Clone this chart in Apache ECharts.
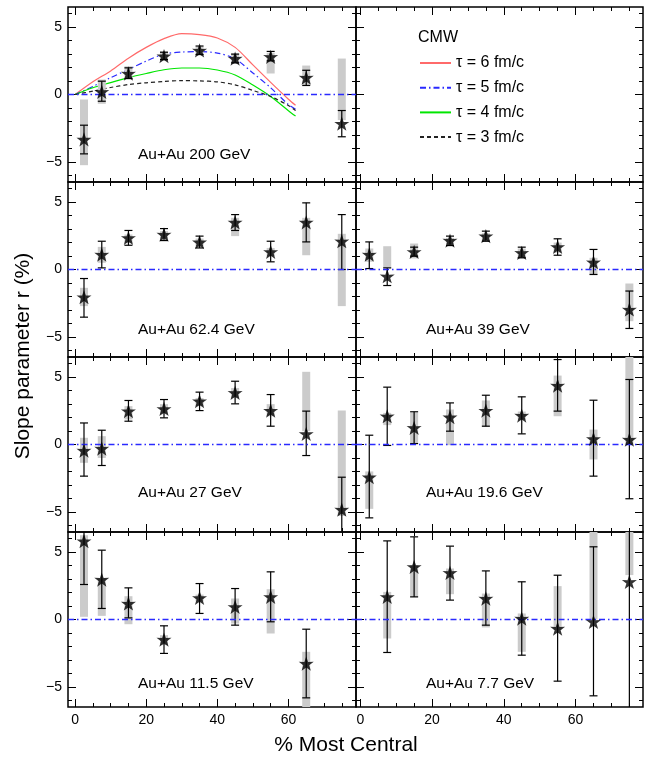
<!DOCTYPE html>
<html><head><meta charset="utf-8">
<script src="https://cdn.jsdelivr.net/npm/echarts@6/dist/echarts.min.js"></script>
<style>html,body{margin:0;padding:0;background:#fff}#c{width:654px;height:757px}</style>
</head><body><div id="c"></div>
<script>
// ---------------- DATA ----------------
const centrality = [2.5, 7.5, 15, 25, 35, 45, 55, 65, 75];
const xTickLabels = [0, 20, 40, 60];
const yTickLabels = [-5, 0, 5];

const val200 = [-3.34, 0.2, 1.56, 2.85, 3.27, 2.67, 2.8, 1.26, -2.16];
const stat200 = [[-4.41,-2.28],[-0.5,0.99],[1.19,1.98],[2.6,3.14],[2.97,3.6],[2.35,3.0],[2.5,3.2],[0.67,1.8],[-3.14,-1.19]];
const sys200 = [[-5.25,-0.37],[-0.69,1.11],[1.11,2.1],[2.5,3.2],[2.95,3.55],[2.3,3.05],[1.56,3.1],[0.7,2.15],[-1.9,2.67]];

const val624 = [-2.05, 1.11, 2.35, 2.6, 2.03, 3.5, 1.31, 3.5, 2.1];
const stat624 = [[-3.54,-0.67],[0.12,2.1],[1.8,2.9],[2.15,3.04],[1.6,2.48],[2.9,4.08],[0.57,2.1],[2.05,4.95],[0,4.08]];
const sys624 = [[-2.72,-1.36],[0.5,1.68],[1.98,2.6],[2.3,2.85],[1.75,2.3],[2.48,3.84],[1.0,1.6],[1.06,3.84],[-2.72,2.65]];

const val39 = [1.11, -0.5, 1.31, 2.15, 2.48, 1.24, 1.68, 0.54, -2.97];
const stat39 = [[0.07,2.05],[-1.19,0.12],[0.99,1.66],[1.78,2.48],[2.1,2.85],[0.87,1.66],[1.06,2.28],[-0.37,1.49],[-4.38,-1.6]];
const sys39 = [[0.57,1.56],[0.12,1.73],[0.82,1.93],[1.85,2.35],[2.1,2.7],[0.82,1.56],[1.25,2.0],[-0.37,0.87],[-3.84,-1.04]];

const val27 = [-0.45, -0.3, 2.48, 2.65, 3.22, 3.84, 2.52, 0.79, -4.83];
const stat27 = [[-2.35,1.6],[-1.56,1.06],[1.73,3.27],[1.98,3.34],[2.52,3.89],[3.02,4.7],[1.36,3.71],[-0.82,2.48],[-7.5,-2.43]];
const sys27 = [[-1.36,0.5],[-1.0,0.62],[1.86,2.85],[2.25,3.0],[2.85,3.45],[3.45,4.2],[2.1,3.0],[0.99,5.4],[-5.32,2.52]];

const val196 = [-2.43, 2.1, 1.24, 2.03, 2.52, 2.15, 4.38, 0.42, 0.37];
const stat196 = [[-5.45,0.69],[-0.07,4.26],[0.07,2.43],[0.99,3.09],[1.36,3.66],[0.79,3.54],[2.48,6.31],[-2.35,3.29],[-4.03,4.83]];
const sys196 = [[-4.78,-2.0],[1.44,2.35],[0.12,2.35],[-0.05,2.6],[1.31,3.27],[1.85,2.45],[2.1,5.12],[-1.11,1.11],[0.0,7.0]];

const val115 = [5.82, 2.97, 1.19, -1.49, 1.61, 0.94, 1.68, -3.27, null];
const stat115 = [[2.6,7.0],[0.82,5.15],[0.12,2.35],[-2.52,-0.47],[0.45,2.67],[-0.42,2.3],[-0.17,3.54],[-5.82,-0.72],null];
const sys115 = [[0.2,6.26],[0.27,3.04],[-0.35,1.73],[-1.9,-1.16],[1.35,1.85],[-0.3,1.56],[-1.04,2.25],[-7.0,-2.4],null];

const val77 = [null, 1.68, 3.91, 3.47, 1.56, 0.07, -0.67, -0.17, 2.8];
const stat77 = [null,[-2.45,5.84],[1.68,6.14],[1.44,5.45],[-0.42,3.61],[-2.65,2.8],[-4.58,3.29],[-5.67,5.4],[-7.5,7.5]];
const sys77 = [null,[-1.41,2.05],[1.68,4.03],[1.88,3.79],[-0.59,1.93],[-2.4,0.45],[-0.79,2.48],[0.0,7.0],[3.3,7.0]];

// CMW model curves (Au+Au 200 GeV)
const theoryX = [0, 5, 10, 15, 20, 25, 30, 35, 40, 45, 50, 55, 60, 62];
const tau6 = [0, 0.95, 1.75, 2.7, 3.5, 4.15, 4.52, 4.45, 4.2, 3.5, 2.2, 0.9, -0.35, -0.8];
const tau5 = [0, 0.6, 1.25, 1.86, 2.48, 3.0, 3.15, 3.18, 3.08, 2.65, 1.6, 0.5, -0.75, -1.1];
const tau4 = [0, 0.5, 0.88, 1.25, 1.56, 1.84, 1.97, 1.97, 1.82, 1.45, 0.7, -0.15, -1.2, -1.6];
const tau3 = [0, 0.25, 0.52, 0.74, 0.87, 0.97, 1.03, 1.01, 0.94, 0.72, 0.3, -0.15, -0.82, -1.2];

// ---------------- CHART ----------------
const FONT = '"Liberation Sans", Arial, Helvetica, sans-serif';
const BLUE = '#2a2aff';
const panels = [
  {label:'Au+Au 200 GeV', val:val200, stat:stat200, sys:sys200},
  null,
  {label:'Au+Au 62.4 GeV', val:val624, stat:stat624, sys:sys624},
  {label:'Au+Au 39 GeV', val:val39, stat:stat39, sys:sys39},
  {label:'Au+Au 27 GeV', val:val27, stat:stat27, sys:sys27},
  {label:'Au+Au 19.6 GeV', val:val196, stat:stat196, sys:sys196},
  {label:'Au+Au 11.5 GeV', val:val115, stat:stat115, sys:sys115},
  {label:'Au+Au 7.7 GeV', val:val77, stat:stat77, sys:sys77}
];
const rowTop = [7, 182, 357, 532];
const labelOff = [140, 140, 128, 144];
const colLeft = [68, 356], colWidth = [288, 287];
const colMin = [-2, -1.2], colMax = [79, 78.8];
const minorX = [], minorY = [];
for (let v = 0; v <= 75; v += 5) minorX.push(v);
for (let v = -6; v <= 6; v += 1) minorY.push(v);

const grids = [], xAxes = [], yAxes = [], series = [], titles = [];
function xAx(i, pos, major, showLabel, c) {
  return {type:'value', gridIndex:i, position:pos, min:colMin[c], max:colMax[c],
    axisLine:{show:false, onZero:false}, splitLine:{show:false},
    axisTick:{show:true, inside:true, length: major?8:4, customValues: major?xTickLabels:minorX, lineStyle:{color:'#000', width:1}},
    axisLabel:{show:showLabel, customValues:xTickLabels, margin:6, fontSize:14, color:'#000', fontFamily:FONT}};
}
function yAx(i, pos, major, showLabel) {
  return {type:'value', gridIndex:i, position:pos, min:-6.5, max:6.5,
    axisLine:{show:false, onZero:false}, splitLine:{show:false},
    axisTick:{show:true, inside:true, length: major?8:4, customValues: major?yTickLabels:minorY, lineStyle:{color:'#000', width:1}},
    axisLabel:{show:showLabel, customValues:yTickLabels, margin:6, fontSize:14, color:'#000', fontFamily:FONT,
      formatter: v => v < 0 ? '\u2212' + Math.abs(v) : String(v)}};
}
function sysRender(params, api) {
  const x = api.value(0), lo = api.value(1), hi = api.value(2);
  const a = api.coord([x, hi]), b = api.coord([x, lo]);
  return {type:'rect', shape:{x:a[0]-4, y:a[1], width:8, height:b[1]-a[1]}, style:{fill:'#cbcbcb'}};
}
function statRender(params, api) {
  const x = api.value(0), lo = api.value(1), hi = api.value(2);
  const a = api.coord([x, hi]), b = api.coord([x, lo]);
  const st = {stroke:'#000', lineWidth:1.2};
  return {type:'group', children:[
    {type:'line', shape:{x1:a[0], y1:a[1], x2:b[0], y2:b[1]}, style:st},
    {type:'line', shape:{x1:a[0]-4, y1:a[1], x2:a[0]+4, y2:a[1]}, style:st},
    {type:'line', shape:{x1:b[0]-4, y1:b[1], x2:b[0]+4, y2:b[1]}, style:st}]};
}
const STAR = 'path://M50,0 L61.8,35.1 L97.6,34.5 L68.8,56.1 L79.4,90.5 L50,70 L20.6,90.5 L31.2,56.1 L2.4,34.5 L38.2,35.1 Z';

for (let i = 0; i < 8; i++) {
  const r = Math.floor(i / 2), c = i % 2;
  grids.push({left:colLeft[c], top:rowTop[r], width:colWidth[c], height:175, show:true,
    borderColor:'#000', borderWidth:1.5, backgroundColor:'transparent'});
  const xb = xAxes.length, yb = yAxes.length;
  xAxes.push(xAx(i, 'bottom', true, r === 3, c), xAx(i, 'bottom', false, false, c),
             xAx(i, 'top', true, false, c), xAx(i, 'top', false, false, c));
  yAxes.push(yAx(i, 'left', true, c === 0), yAx(i, 'left', false, false),
             yAx(i, 'right', true, false), yAx(i, 'right', false, false));
  const p = panels[i];
  if (!p) continue;
  titles.push({text:p.label, left: c === 0 ? 138 : 426, top: rowTop[r] + labelOff[r], padding:0,
    textStyle:{fontSize:15.5, fontWeight:'normal', color:'#000', fontFamily:FONT}});
  // zero reference line
  series.push({type:'line', xAxisIndex:xb, yAxisIndex:yb, data:[], z:1, silent:true,
    itemStyle:{color:BLUE}, lineStyle:{color:BLUE},
    markLine:{silent:true, symbol:['none','none'], label:{show:false}, animation:false,
      itemStyle:{color:BLUE},
      lineStyle:{color:BLUE, width:1.3, type:[6,3,1.5,3], opacity:1},
      emphasis:{disabled:true},
      data:[{yAxis:0, lineStyle:{color:BLUE}}]}});
  const sysData = [], statData = [], ptData = [];
  centrality.forEach((x, k) => {
    if (p.val[k] === null) return;
    ptData.push([x, p.val[k]]);
    statData.push([x, p.stat[k][0], p.stat[k][1]]);
    sysData.push([x, p.sys[k][0], p.sys[k][1]]);
  });
  series.push({type:'custom', xAxisIndex:xb, yAxisIndex:yb, renderItem:sysRender, data:sysData, clip:true, z:3, silent:true,
    encode:{x:0, y:[1,2]}});
  series.push({type:'custom', xAxisIndex:xb, yAxisIndex:yb, renderItem:statRender, data:statData, clip:true, z:4, silent:true,
    encode:{x:0, y:[1,2]}});
  series.push({type:'scatter', xAxisIndex:xb, yAxisIndex:yb, data:ptData, symbol:STAR, symbolSize:15, symbolKeepAspect:true,
    itemStyle:{color:'#000'}, z:5, silent:true});
}

// model curves in the 200 GeV panel
const curves = [
  {name:'\u03c4 = 6 fm/c', y:tau6, color:'#ff6a6a', type:'solid'},
  {name:'\u03c4 = 5 fm/c', y:tau5, color:BLUE, type:[6,3,1.5,3]},
  {name:'\u03c4 = 4 fm/c', y:tau4, color:'#00e600', type:'solid'},
  {name:'\u03c4 = 3 fm/c', y:tau3, color:'#222222', type:[4,3]}
];
curves.forEach(cv => {
  series.push({type:'line', name:cv.name, xAxisIndex:0, yAxisIndex:0, data: theoryX.map((x, k) => [x, cv.y[k]]),
    smooth:0.3, symbol:'none', showSymbol:false, z:2, silent:true,
    lineStyle:{color:cv.color, width:1.2, type:cv.type}, itemStyle:{color:cv.color}});
});
titles.push({text:'CMW', left:418, top:30, padding:0, textStyle:{fontSize:16, fontWeight:'normal', color:'#000', fontFamily:FONT}});

const chart = echarts.init(document.getElementById('c'), null, {renderer:'canvas'});
chart.setOption({
  animation:false,
  backgroundColor:'#fff',
  title: titles,
  legend:{orient:'vertical', left:419, top:55, padding:0, itemWidth:31, itemHeight:14, itemGap:8.7,
    itemStyle:{color:'rgba(0,0,0,0)', borderColor:'rgba(0,0,0,0)', borderWidth:0, opacity:0},
    textStyle:{fontSize:16, color:'#000', fontFamily:FONT}, data: curves.map(c => c.name), selectedMode:false},
  grid: grids, xAxis: xAxes, yAxis: yAxes, series: series,
  graphic:[
    {type:'text', x:23, y:356, rotation:Math.PI/2, style:{text:'Slope parameter r (%)', fontSize:21, fontFamily:FONT, fill:'#000', textAlign:'center', textVerticalAlign:'middle'}},
    {type:'text', x:346, y:745, style:{text:'% Most Central', fontSize:21, fontFamily:FONT, fill:'#000', textAlign:'center', textVerticalAlign:'middle'}}
  ]
});
</script></body></html>
